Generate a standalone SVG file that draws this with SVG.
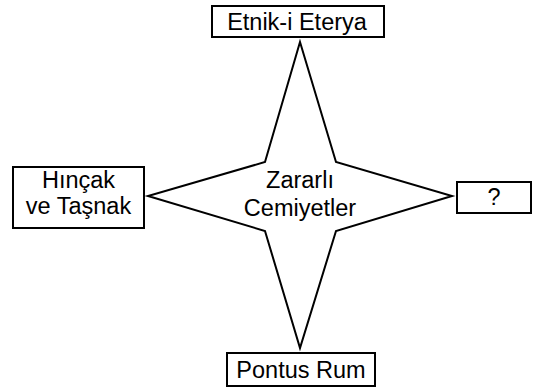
<svg xmlns="http://www.w3.org/2000/svg" width="536" height="389" viewBox="0 0 536 389">
<style>
.box{fill:#fff;stroke:#000;stroke-width:2}
.star{fill:#fff;stroke:#000;stroke-width:2;stroke-linejoin:miter}
text{font-family:"Liberation Sans",Arial,sans-serif;font-size:23.5px;fill:#000;text-anchor:middle}
</style>
<rect width="536" height="389" fill="#fff"/>
<g id="center">
<polygon class="star" points="300,42 336,162 452,196 336,231 300,348 265,231 148,196 265,162"/>
<text x="300" y="188">Zararlı</text>
<text x="300" y="216">Cemiyetler</text>
</g>
<g id="connectors"></g>
<g id="top">
<rect class="box" x="212" y="6" width="172" height="31"/>
<text x="297" y="30">Etnik-i Eterya</text>
</g>
<g id="left">
<rect class="box" x="13" y="167" width="131" height="61"/>
<text x="78.5" y="188">Hınçak</text>
<text x="78.5" y="214">ve Taşnak</text>
</g>
<g id="right">
<rect class="box" x="457" y="182" width="74" height="31"/>
<text x="494" y="205">?</text>
</g>
<g id="bottom">
<rect class="box" x="227" y="353" width="148" height="33"/>
<text x="301" y="378">Pontus Rum</text>
</g>
</svg>
